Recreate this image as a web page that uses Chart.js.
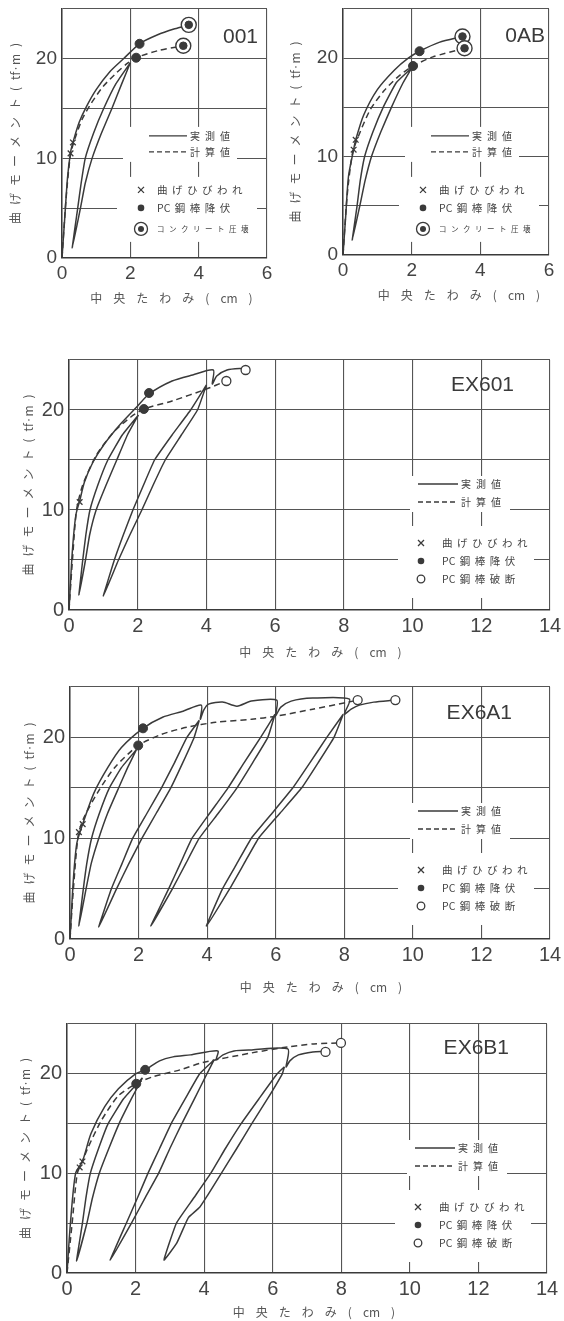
<!DOCTYPE html>
<html>
<head>
<meta charset="utf-8">
<script src="https://cdn.jsdelivr.net/npm/chart.js@4.4.1/dist/chart.umd.min.js"></script>
<style>
    html, body { margin: 0; padding: 0; background: #fff; }
    body { position: relative; width: 564px; height: 1321px; overflow: hidden; }
    canvas { position: absolute; }
</style>
</head>
<body>
<canvas id="c001" width="280" height="310" style="left:0;top:0"></canvas>
<canvas id="c0AB" width="284" height="310" style="left:280px;top:0"></canvas>
<canvas id="cEX601" width="564" height="345" style="left:0;top:320px"></canvas>
<canvas id="cEX6A1" width="564" height="335" style="left:0;top:665px"></canvas>
<canvas id="cEX6B1" width="564" height="321" style="left:0;top:1000px"></canvas>
<script>
// --- data: [deflection cm, moment tf·m] ---

const env001 = [[0,0],[0.08,4],[0.16,8],[0.25,10.6],[0.32,11.6],[0.5,13.6],[0.7,15.1],[1.0,16.9],[1.4,18.7],[1.8,20.0],[2.27,21.5],[2.8,22.4],[3.3,23.0],[3.71,23.4]];
const calc001 = [[0,0],[0.12,6],[0.25,10.4],[0.4,12.2],[0.6,14.0],[0.85,15.5],[1.2,17.2],[1.6,18.6],[1.9,19.5],[2.17,20.1],[2.8,20.8],[3.55,21.3]];
const loop001 = [[2.0,19.6],[1.75,17.5],[1.46,15],[1.15,12.5],[0.88,10],[0.68,7.5],[0.54,5],[0.3,1],[0.46,5],[0.56,7.5],[0.68,10],[0.92,12.5],[1.22,15],[1.58,17.5],[2.0,19.6]];
const crack001 = [[0.25,10.5],[0.32,11.6]];
const yield001 = [[2.27,21.5],[2.17,20.1]];
const crush001 = [[3.71,23.4],[3.55,21.3]];

const envAB = [[0,0],[0.08,4],[0.16,8],[0.31,10.7],[0.37,11.7],[0.6,14.2],[1.0,16.8],[1.5,18.8],[1.9,20.0],[2.23,20.7],[2.8,21.6],[3.48,22.2]];
const calcAB = [[0,0],[0.12,6],[0.28,10.4],[0.5,12.5],[0.8,14.8],[1.2,16.7],[1.6,18.1],[2.04,19.2],[2.6,20.1],[3.54,21.0]];
const loopAB = [[2.0,19.0],[1.75,17.5],[1.41,15],[1.1,12.5],[0.83,10],[0.64,7.5],[0.49,5],[0.27,1.5],[0.41,5],[0.5,7.5],[0.63,10],[0.87,12.5],[1.17,15],[1.55,17.5],[2.0,19.0]];
const crackAB = [[0.31,10.7],[0.37,11.7]];
const yieldAB = [[2.23,20.7],[2.04,19.2]];
const crushAB = [[3.48,22.2],[3.54,21.0]];

const env601 = [[0,0],[0.1,6],[0.2,9.5],[0.31,10.9],[0.45,12.8],[0.7,14.8],[1.03,16.6],[1.5,18.6],[1.97,20.3],[2.33,21.6],[3.0,22.9],[3.6,23.5],[4.2,24.0],[4.17,22.6],[4.3,23.4],[4.6,24.0],[5.0,24.15],[5.1,24.1]];
const calc601 = [[0,0],[0.1,5],[0.22,10],[0.4,12.5],[0.8,15.5],[1.3,17.8],[1.8,19.3],[2.18,20.1],[3.0,20.9],[4.0,22.1],[4.58,22.9]];
const loop601a = [[2.02,19.5],[1.7,17.5],[1.39,15],[1.08,12.5],[0.79,10],[0.6,7.5],[0.48,5],[0.29,1.5],[0.4,5],[0.49,7.5],[0.61,10],[0.84,12.5],[1.13,15],[1.55,17.5],[2.02,19.5]];
const loop601b = [[4.0,22.5],[3.74,20],[3.27,17.5],[2.8,15],[2.45,12.5],[2.12,10],[1.77,7.5],[1.44,5],[1.0,1.4],[1.32,5],[1.58,7.5],[1.86,10],[2.17,12.5],[2.49,15],[3.0,17.5],[3.54,20],[4.0,22.5]];
const crack601 = [[0.31,10.8]];
const yield601 = [[2.33,21.7],[2.18,20.1]];
const break601 = [[5.14,24.0],[4.58,22.9]];

const env6A1 = [[0,0],[0.1,6],[0.2,9.5],[0.37,11.4],[0.7,14.5],[1.1,17],[1.5,19],[2.13,20.9],[2.7,22],[3.3,22.6],[3.83,23.2],[3.8,21.8],[3.9,22.7],[4.04,23.3],[4.45,23.5],[4.87,23.1],[5.29,23.6],[6.03,23.7],[6.0,22.2],[6.15,23.0],[6.45,23.6],[7.08,23.9],[8.15,23.8],[8.0,22.3],[8.2,22.8],[8.44,23.2],[8.86,23.5],[9.45,23.7]];
const calc6A1 = [[0,0],[0.1,5],[0.24,10.3],[0.4,12],[0.8,14.5],[1.3,17],[1.99,19.2],[2.67,20.3],[3.4,21.0],[4.25,21.5],[5.3,21.8],[6.0,22.1],[7.08,22.8],[8.12,23.5],[8.39,23.7]];
const loop6A1a = [[1.94,18.8],[1.68,17],[1.42,15],[1.1,12.5],[0.84,10],[0.62,7.5],[0.47,5],[0.26,1.3],[0.39,5],[0.49,7.5],[0.63,10],[0.86,12.5],[1.15,15],[1.5,17],[1.94,18.8]];
const loop6A1b = [[3.77,21.7],[3.62,20],[3.29,17.5],[2.94,15],[2.52,12.5],[2.1,10],[1.72,7.5],[1.36,5],[0.84,1.2],[1.21,5],[1.52,7.5],[1.83,10],[2.25,12.5],[2.67,15],[3.05,17.5],[3.41,20],[3.77,21.7]];
const loop6A1c = [[5.98,22.3],[5.77,20],[5.33,17.5],[4.87,15],[4.33,12.5],[3.77,10],[3.38,7.5],[2.99,5],[2.36,1.3],[2.88,5],[3.22,7.5],[3.56,10],[4.08,12.5],[4.61,15],[5.08,17.5],[5.56,20],[5.98,22.3]];
const loop6A1d = [[7.97,22.3],[7.7,20],[7.24,17.5],[6.76,15],[6.13,12.5],[5.5,10],[5.08,7.5],[4.66,5],[3.98,1.3],[4.45,5],[4.87,7.5],[5.29,10],[5.9,12.5],[6.5,15],[7.0,17.5],[7.49,20],[7.97,22.3]];
const crack6A1 = [[0.26,10.6],[0.37,11.4]];
const yield6A1 = [[2.13,20.9],[1.99,19.2]];
const break6A1 = [[9.49,23.7],[8.39,23.7]];

const env6B1 = [[0,0],[0.1,5],[0.25,10],[0.45,11.2],[0.7,14],[1.1,16.7],[1.5,18.5],[2.0,20],[2.28,20.4],[2.7,21.3],[3.09,21.7],[3.6,21.9],[4.4,22.3],[4.35,21.4],[4.55,21.9],[4.87,22.3],[5.39,22.4],[6.44,22.5],[6.39,20.7],[6.5,21.3],[6.75,21.9],[7.17,22.2],[7.5,22.25]];
const calc6B1 = [[0,0],[0.15,5],[0.3,10],[0.45,11.2],[0.6,12.5],[1.0,15.3],[1.5,17.8],[2.02,19.0],[2.5,19.7],[3.3,20.4],[3.93,21.1],[5.39,22.1],[6.44,22.7],[7.2,23.0],[7.99,23.1]];
const loop6B1a = [[2.2,19.6],[1.88,17.5],[1.52,15],[1.22,12.5],[0.94,10],[0.74,7.5],[0.58,5],[0.28,1.2],[0.45,5],[0.55,7.5],[0.68,10],[0.92,12.5],[1.2,15],[1.65,17.5],[2.2,19.6]];
const loop6B1b = [[4.29,21.4],[4.08,20],[3.72,17.5],[3.35,15],[3.0,12.5],[2.67,10],[2.27,7.5],[1.88,5],[1.26,1.3],[1.73,5],[2.05,7.5],[2.36,10],[2.7,12.5],[3.04,15],[3.45,17.5],[3.87,20],[4.29,21.4]];
const loop6B1c = [[6.34,20.7],[6.28,20],[5.85,17.5],[5.39,15],[4.95,12.5],[4.5,10],[4.1,7.8],[3.87,6.6],[3.55,5.6],[3.46,5],[3.2,3],[2.83,1.3],[3.19,5],[3.69,7.5],[4.19,10],[4.62,12.5],[5.08,15],[5.6,17.5],[6.13,20],[6.34,20.7]];
const crack6B1 = [[0.37,10.6],[0.45,11.2]];
const yield6B1 = [[2.28,20.4],[2.02,19.0]];
const break6B1 = [[7.54,22.2],[7.99,23.1]];

const yTicks = [0, 10, 20];
const yTitle = '曲げモーメント(tf·m)';
const xTitle = '中央たわみ(cm)';
const legendTexts = ['実測値', '計算値', '曲げひびわれ', 'PC鋼棒降伏'];
const crushText = 'コンクリート圧壊';
const breakText = 'PC鋼棒破断';

const INK = '#3a3a3a';
const GRID = '#555';
const TEXT = '#444';
const CJK = '"Noto Sans CJK JP", sans-serif';
const NUM = '"Liberation Sans", Arial, sans-serif';

// legend layouts, offsets from chartArea right / top
const SMALL = {
    rows: [127, 143, 181, 199, 220], line: [-118, -80], lineText: -77, mark: -126, markText: -110,
    boxes: [[-144, 118, -30, 153], [-150, 168, -10, 233]]
};
const BIG = {
    rows: [124, 142, 183, 201, 219], line: [-132, -92], lineText: -89, mark: -129, markText: -108,
    boxes: [[-140, 116, -40, 152], [-152, 166, -16, 238]]
};

function pts(arr) {
    return arr.map(p => ({x: p[0], y: p[1]}));
}

function drawSpaced(ctx, text, x, y, gap, center) {
    const toks = text.match(/[A-Za-z·]+|./gu);
    const widths = toks.map(t => ctx.measureText(t).width);
    const total = widths.reduce((a, b) => a + b, 0) + gap * (toks.length - 1);
    let cx = center ? x - total / 2 : x;
    ctx.textAlign = 'left';
    ctx.textBaseline = 'middle';
    toks.forEach((t, i) => {
        ctx.fillText(t, cx, y);
        cx += widths[i] + gap;
    });
}

function drawMark(ctx, kind, x, y) {
    ctx.lineWidth = 1.3;
    ctx.strokeStyle = INK;
    ctx.fillStyle = INK;
    ctx.setLineDash([]);
    if (kind === 'crack') {
        ctx.beginPath();
        ctx.moveTo(x - 3, y - 3); ctx.lineTo(x + 3, y + 3);
        ctx.moveTo(x + 3, y - 3); ctx.lineTo(x - 3, y + 3);
        ctx.stroke();
    } else if (kind === 'yield') {
        ctx.beginPath(); ctx.arc(x, y, 3.3, 0, Math.PI * 2); ctx.fill();
    } else if (kind === 'crush') {
        ctx.beginPath(); ctx.arc(x, y, 6.5, 0, Math.PI * 2); ctx.stroke();
        ctx.beginPath(); ctx.arc(x, y, 3, 0, Math.PI * 2); ctx.fill();
    } else {
        ctx.beginPath(); ctx.arc(x, y, 3.8, 0, Math.PI * 2); ctx.stroke();
    }
}

const figureDecor = {
    id: 'figureDecor',
    afterDraw(chart, args, o) {
        const {ctx, chartArea: a} = chart;
        const L = o.layout;
        ctx.save();

        // blank the grid behind the legend
        ctx.fillStyle = '#fff';
        L.boxes.forEach(b => ctx.fillRect(a.right + b[0], a.top + b[1], b[2] - b[0], b[3] - b[1]));

        // line legend
        ctx.strokeStyle = INK;
        ctx.lineWidth = 1.4;
        [[], [5, 3]].forEach((dash, i) => {
            const y = a.top + L.rows[i];
            ctx.setLineDash(dash);
            ctx.beginPath();
            ctx.moveTo(a.right + L.line[0], y);
            ctx.lineTo(a.right + L.line[1], y);
            ctx.stroke();
            ctx.fillStyle = TEXT;
            ctx.font = '10px ' + CJK;
            drawSpaced(ctx, legendTexts[i], a.right + L.lineText, y, 5, false);
        });

        // marker legend
        const marks = [['crack', legendTexts[2]], ['yield', legendTexts[3]],
            [o.endKind, o.endKind === 'crush' ? crushText : breakText]];
        marks.forEach((m, i) => {
            const y = a.top + L.rows[i + 2];
            drawMark(ctx, m[0], a.right + L.mark, y);
            ctx.fillStyle = TEXT;
            if (m[0] === 'crush') {
                ctx.font = '7.5px ' + CJK;
                drawSpaced(ctx, m[1], a.right + L.markText, y, 4.5, false);
            } else {
                ctx.font = '10.5px ' + CJK;
                drawSpaced(ctx, m[1], a.right + L.markText, y, 4.5, false);
            }
        });

        // specimen name
        ctx.fillStyle = INK;
        ctx.font = '21px ' + NUM;
        ctx.textAlign = 'right';
        ctx.textBaseline = 'middle';
        ctx.fillText(o.name, a.right + o.nameDx, a.top + o.nameDy);

        // axis titles
        ctx.fillStyle = '#555';
        ctx.font = '12px ' + CJK;
        drawSpaced(ctx, xTitle, (a.left + a.right) / 2 + o.xTitleDx, a.bottom + o.xTitleDy, 11, true);
        ctx.translate(a.left + o.yTitleDx, (a.top + a.bottom) / 2);
        ctx.rotate(-Math.PI / 2);
        drawSpaced(ctx, yTitle, 0, 0, 7, true);

        ctx.restore();
    }
};

function curve(data, dashed, tension) {
    return {
        data: pts(data), showLine: true, borderColor: INK, borderWidth: 1.5,
        borderDash: dashed ? [6, 4] : [], pointRadius: 0, tension: tension, order: 5
    };
}

function makeChart(p) {
    const datasets = [curve(p.env, false, 0.25), curve(p.calc, true, 0.25)];
    p.loops.forEach(l => datasets.push(curve(l, false, 0.12)));
    datasets.push({
        data: pts(p.crack), pointStyle: 'crossRot', pointRadius: 4, borderColor: INK,
        borderWidth: 1.3, order: 2
    });
    datasets.push({
        data: pts(p.yieldPts), pointStyle: 'circle', pointRadius: 4.5, backgroundColor: INK,
        borderColor: INK, borderWidth: 1, order: 2
    });
    if (p.endKind === 'crush') {
        datasets.push({
            data: pts(p.endPts), pointStyle: 'circle', pointRadius: 7.5, backgroundColor: '#fff',
            borderColor: INK, borderWidth: 1.4, order: 3
        });
        datasets.push({
            data: pts(p.endPts), pointStyle: 'circle', pointRadius: 3.8, backgroundColor: INK,
            borderColor: INK, borderWidth: 1, order: 1
        });
    } else {
        datasets.push({
            data: pts(p.endPts), pointStyle: 'circle', pointRadius: 4.5, backgroundColor: '#fff',
            borderColor: INK, borderWidth: 1.3, order: 2
        });
    }

    return new Chart(document.getElementById(p.id), {
        type: 'scatter',
        data: {datasets: datasets},
        plugins: [figureDecor],
        options: {
            responsive: false,
            animation: false,
            events: [],
            layout: {padding: {left: 0, top: p.pad[0], right: p.pad[1], bottom: 0}},
            plugins: {
                legend: {display: false},
                tooltip: {enabled: false},
                figureDecor: p
            },
            scales: {
                x: {
                    type: 'linear', min: 0, max: p.xMax,
                    grid: {color: GRID, lineWidth: 1.1, drawTicks: false},
                    border: {color: INK, width: 1.5},
                    ticks: {stepSize: 2, color: TEXT, padding: 4, maxRotation: 0, autoSkip: false,
                        font: {family: NUM, size: p.tickSize}},
                    afterFit: s => { s.height = p.xH; s.paddingLeft = 0; s.paddingRight = 0; }
                },
                y: {
                    type: 'linear', min: 0, max: 25,
                    grid: {color: GRID, lineWidth: 1.1, drawTicks: false},
                    border: {color: INK, width: 1.5},
                    ticks: {stepSize: 5, color: TEXT, padding: 5, autoSkip: false,
                        font: {family: NUM, size: p.tickSize},
                        callback: v => yTicks.includes(v) ? String(v) : ''},
                    afterFit: s => { s.width = p.yW; s.paddingTop = 0; s.paddingBottom = 0; }
                }
            }
        }
    });
}

const panels = [
    {id: 'c001', name: '001', xMax: 6, env: env001, calc: calc001, loops: [loop001],
        crack: crack001, yieldPts: yield001, endPts: crush001, endKind: 'crush',
        layout: SMALL, yW: 62, xH: 52, pad: [8, 13], tickSize: 19,
        nameDx: -9, nameDy: 28, yTitleDx: -47, xTitleDx: 7, xTitleDy: 40},
    {id: 'c0AB', name: '0AB', xMax: 6, env: envAB, calc: calcAB, loops: [loopAB],
        crack: crackAB, yieldPts: yieldAB, endPts: crushAB, endKind: 'crush',
        layout: SMALL, yW: 63, xH: 55, pad: [5, 15], tickSize: 19,
        nameDx: -4, nameDy: 27, yTitleDx: -48, xTitleDx: 13, xTitleDy: 40},
    {id: 'cEX601', name: 'EX601', xMax: 14, env: env601, calc: calc601, loops: [loop601a, loop601b],
        crack: crack601, yieldPts: yield601, endPts: break601, endKind: 'break',
        layout: BIG, yW: 69, xH: 55, pad: [40, 14], tickSize: 20,
        nameDx: -36, nameDy: 25, yTitleDx: -41, xTitleDx: 11, xTitleDy: 42},
    {id: 'cEX6A1', name: 'EX6A1', xMax: 14, env: env6A1, calc: calc6A1,
        loops: [loop6A1a, loop6A1b, loop6A1c, loop6A1d],
        crack: crack6A1, yieldPts: yield6A1, endPts: break6A1, endKind: 'break',
        layout: BIG, yW: 70, xH: 61, pad: [22, 14], tickSize: 20,
        nameDx: -38, nameDy: 26, yTitleDx: -41, xTitleDx: 11, xTitleDy: 48},
    {id: 'cEX6B1', name: 'EX6B1', xMax: 14, env: env6B1, calc: calc6B1,
        loops: [loop6B1a, loop6B1b, loop6B1c],
        crack: crack6B1, yieldPts: yield6B1, endPts: break6B1, endKind: 'break',
        layout: BIG, yW: 67, xH: 48, pad: [24, 17], tickSize: 20,
        nameDx: -38, nameDy: 24, yTitleDx: -42, xTitleDx: 7, xTitleDy: 39}
];

panels.forEach(makeChart);
</script>
</body>
</html>
